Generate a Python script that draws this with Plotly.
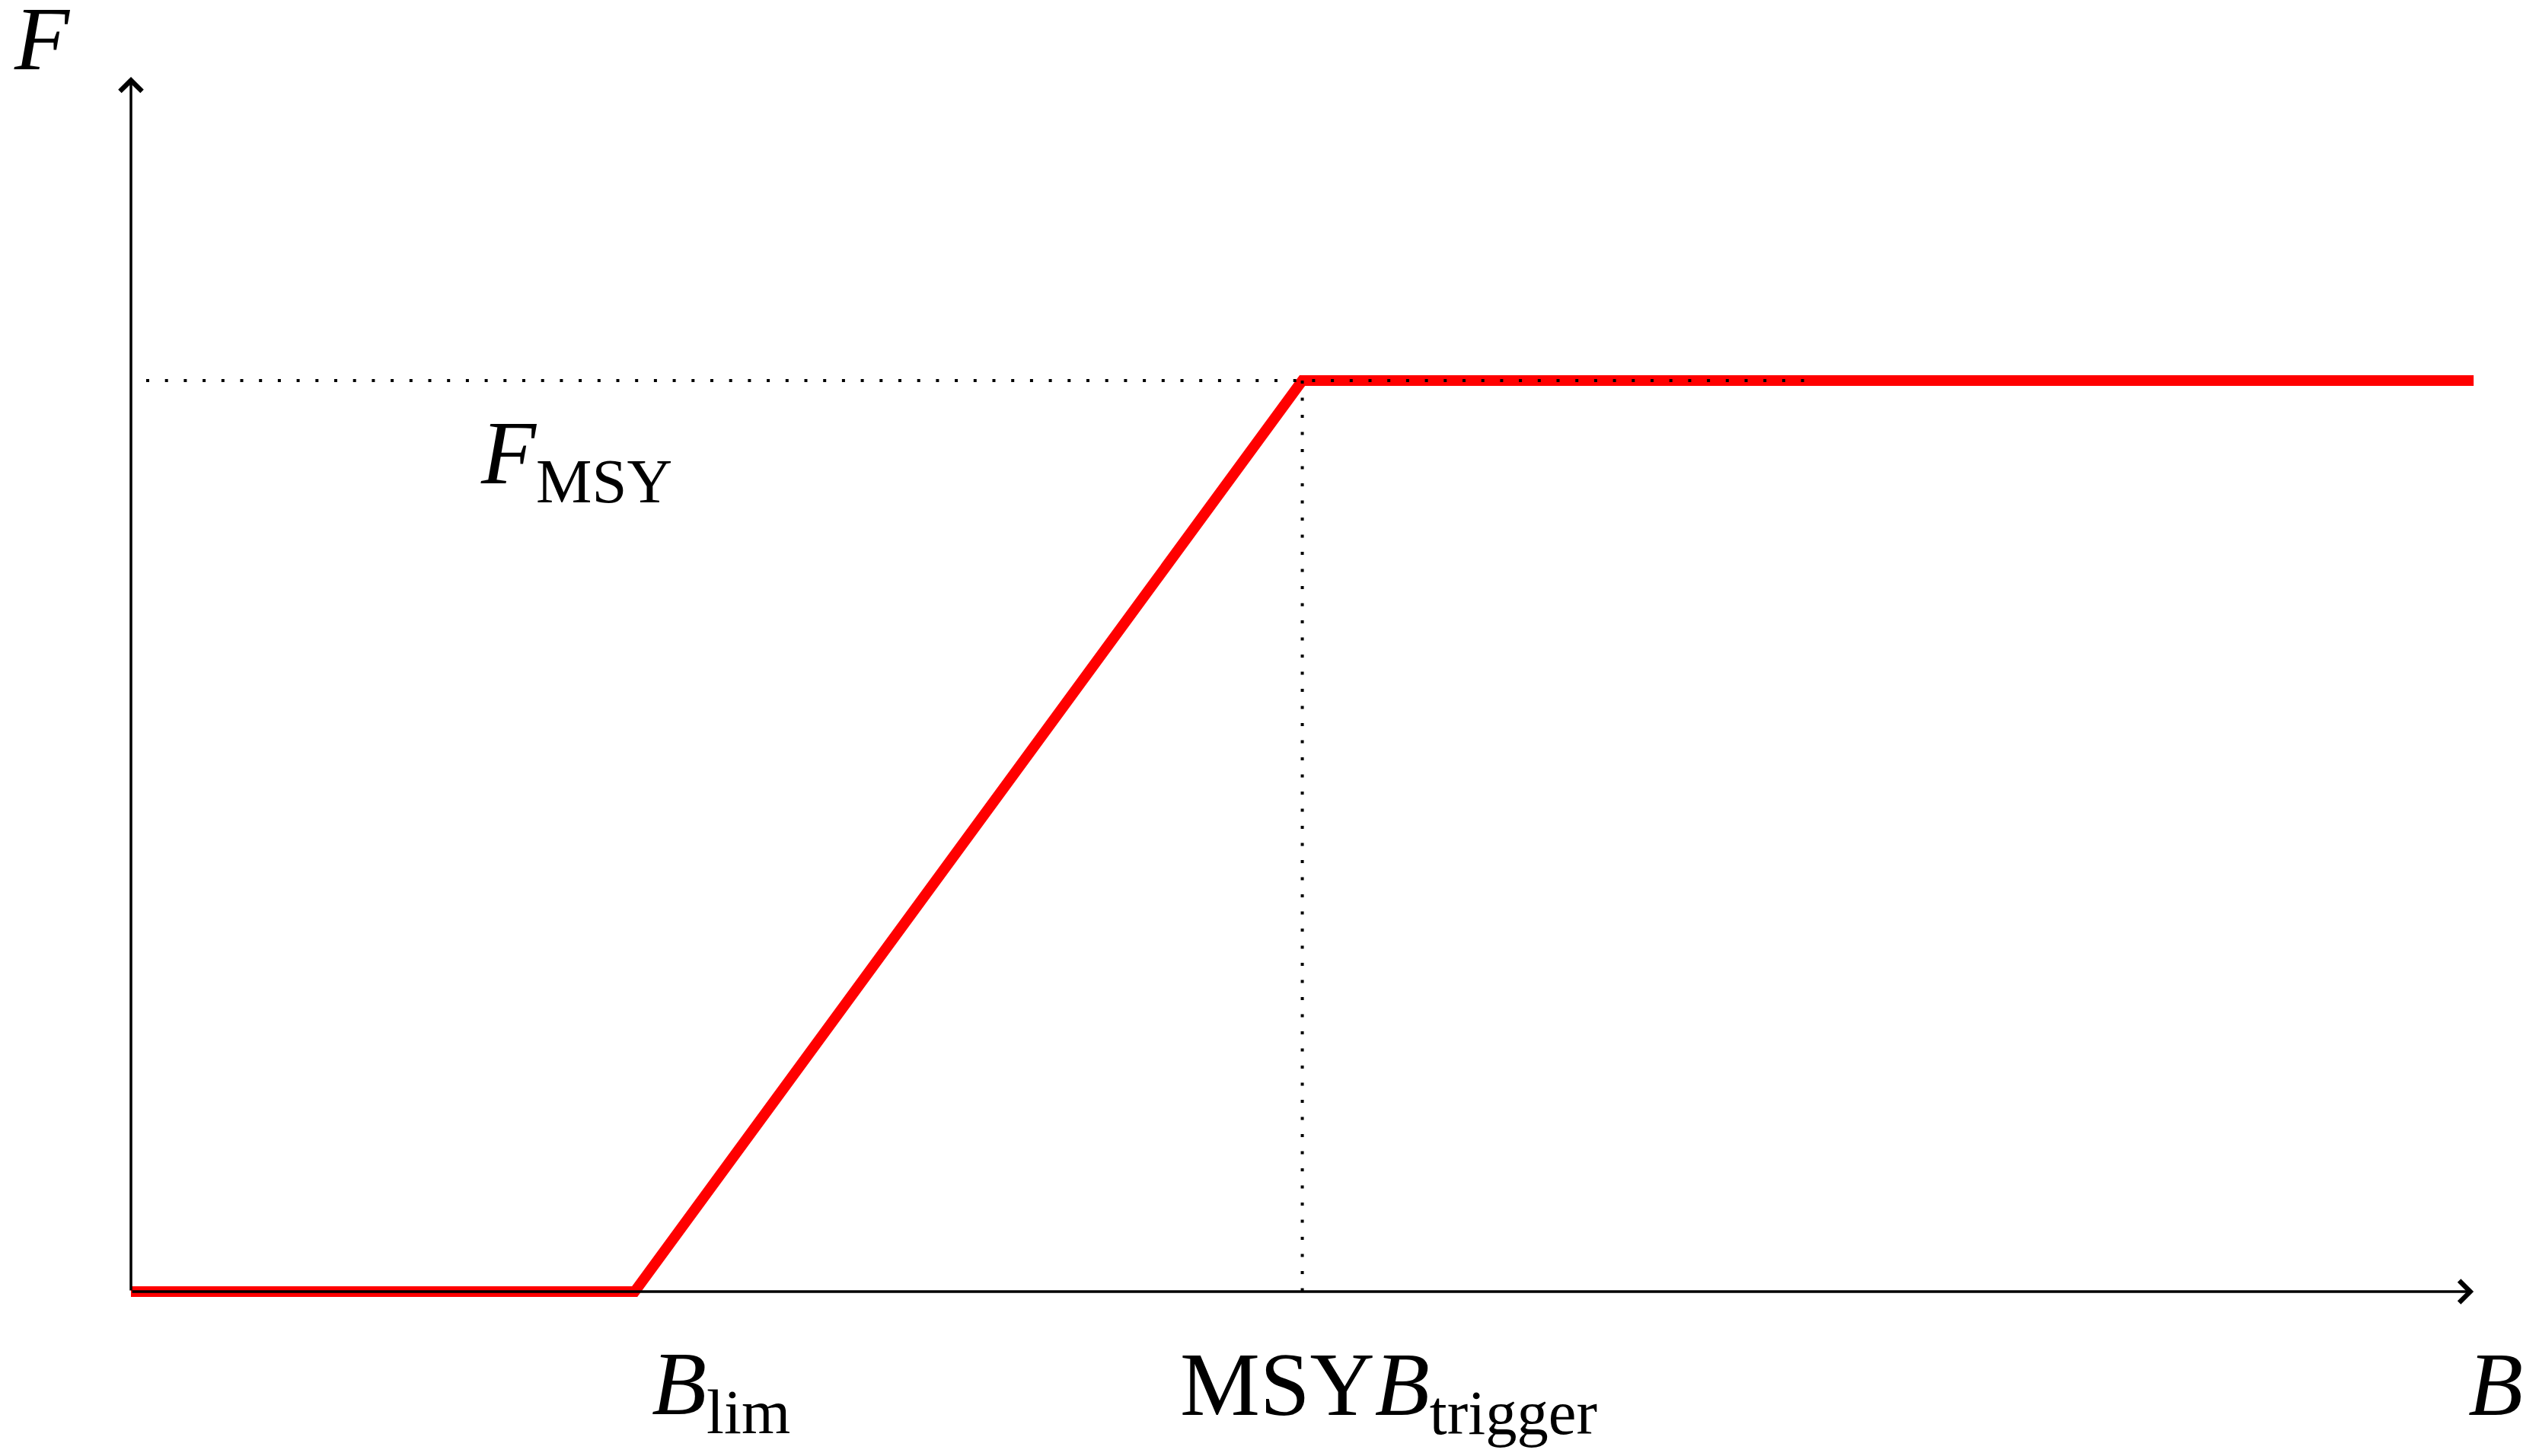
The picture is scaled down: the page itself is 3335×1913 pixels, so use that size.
import plotly.graph_objects as go

# harvest control rule (biomass B vs fishing mortality F), arbitrary units
B_hcr = [0, 2.15, 5.0, 10.0]
F_hcr = [0, 0, 0.75, 0.75]

B_LIM = 2.15
B_TRIGGER = 5.0
F_MSY = 0.75
B_MAX = 10.0
F_MAX = 1.0
DOT_END = 7.2

# page body has an 8px margin, so the figure is a bit smaller than the window
W, H = 3319, 1897
x_range = [-0.533, 10.253]
y_range = [-0.1303, 1.0583]

FONT = "Liberation Serif"
FS = 118

fig = go.Figure()

# the rule itself
fig.add_trace(go.Scatter(
    x=B_hcr, y=F_hcr, mode="lines",
    line=dict(color="#ff0000", width=14),
    hoverinfo="skip",
))

# dotted guides at F_MSY and MSY B_trigger
fig.add_trace(go.Scatter(
    x=[0, DOT_END], y=[F_MSY, F_MSY], mode="lines",
    line=dict(color="black", width=4, dash="0px,20px,4px,0.7px"),
    hoverinfo="skip",
))
fig.add_trace(go.Scatter(
    x=[B_TRIGGER, B_TRIGGER], y=[F_MSY, 0], mode="lines",
    line=dict(color="black", width=4, dash="4px,18.5px"),
    hoverinfo="skip",
))

# axes drawn as arrows
arrow_style = dict(showarrow=True, arrowhead=4, arrowsize=1.6, arrowwidth=3.5,
                   arrowcolor="black", text="", xref="x", yref="y",
                   axref="x", ayref="y")
fig.add_annotation(x=B_MAX, y=0, ax=0, ay=0, **arrow_style)
fig.add_annotation(x=0, y=F_MAX, ax=0, ay=0, **arrow_style)

labels = [
    ("<i>F</i>", -0.38, 1.031),
    ("<i>F</i><sub>MSY</sub>", 1.90, 0.685),
    ("<i>B</i><sub>lim</sub>", 2.52, -0.0815),
    ("MSY<i>B</i><sub>trigger</sub>", 5.37, -0.082),
    ("<i>B</i>", 10.094, -0.077),
]
for txt, x, y in labels:
    fig.add_annotation(x=x, y=y, text=txt, showarrow=False,
                       xanchor="center", yanchor="middle",
                       font=dict(family=FONT, size=FS, color="black"))

fig.update_layout(
    width=W, height=H,
    margin=dict(l=0, r=0, t=0, b=0),
    paper_bgcolor="white", plot_bgcolor="white",
    showlegend=False,
    xaxis=dict(range=x_range, visible=False, fixedrange=True),
    yaxis=dict(range=y_range, visible=False, fixedrange=True),
)

fig.write_html("out.html")
